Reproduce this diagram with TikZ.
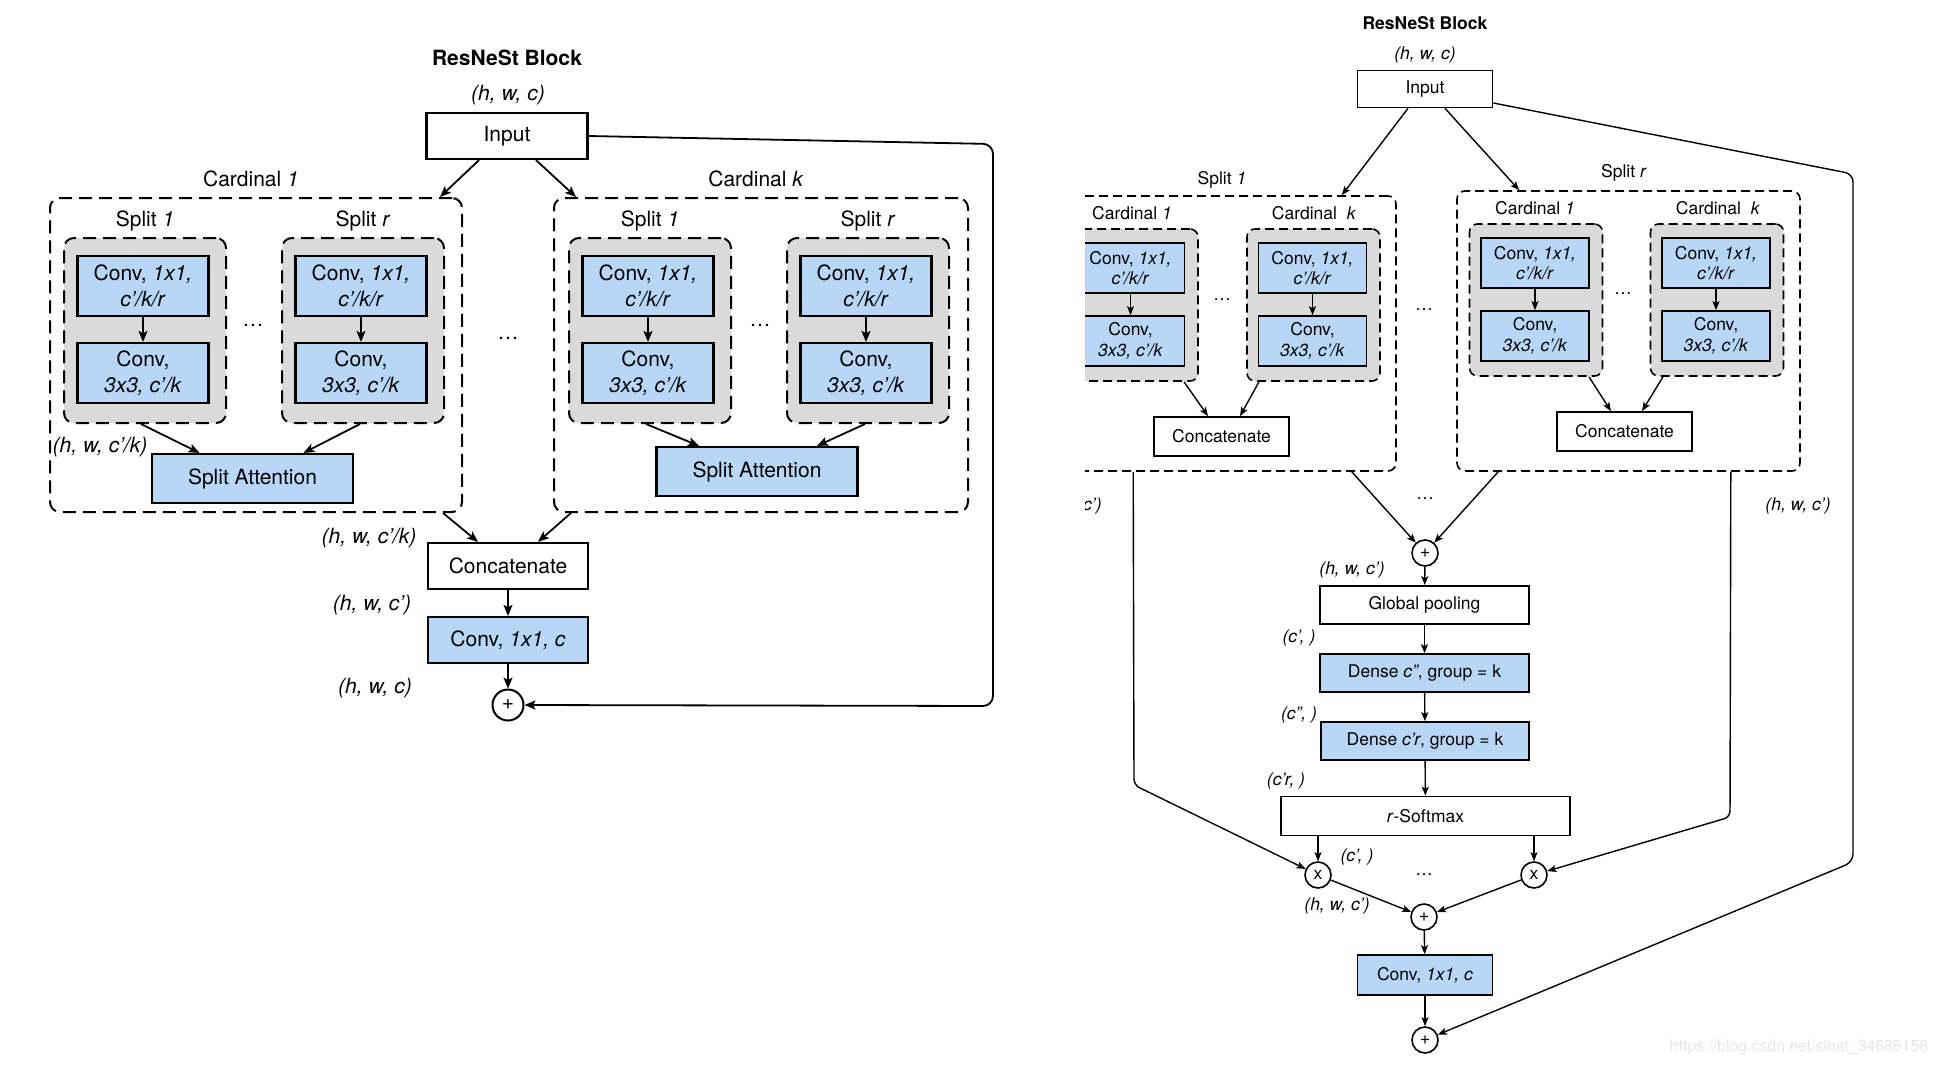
\documentclass[tikz,border=0pt]{standalone}
\usepackage{fontspec}
\setmainfont{TeX Gyre Heros}
\usetikzlibrary{arrows.meta,positioning,calc}
\definecolor{convblue}{HTML}{B8D6F5}
\definecolor{splitgray}{HTML}{DADADA}
\definecolor{markgray}{HTML}{E6E6E6}
\newcommand{\bigfont}{\fontsize{21}{26}\selectfont}
\newcommand{\smallfont}{\fontsize{17.5}{20.5}\selectfont}

\begin{document}
\begin{tikzpicture}[x=1pt,y=-1pt,
  boxL/.style={draw,line width=2.2pt,inner sep=0pt,align=center,font=\bigfont},
  convL/.style={boxL,fill=convblue,minimum width=131pt,minimum height=60pt},
  cardL/.style={draw,line width=2pt,dash pattern=on 13pt off 7pt,rounded corners=10pt,minimum height=314pt},
  splitL/.style={cardL,fill=splitgray,minimum width=162pt,minimum height=185pt},
  sumL/.style={circle,draw,line width=2pt,minimum size=31pt,inner sep=0pt,font=\fontsize{21}{21}\selectfont},
  arrL/.style={line width=1.8pt,-{Stealth[length=11pt,width=9pt,inset=2.5pt]}},
  noteL/.style={font=\bigfont\itshape},
  boxR/.style={draw,line width=1.7pt,inner sep=0pt,align=center,font=\smallfont},
  convR/.style={boxR,fill=convblue,minimum width=108pt,minimum height=50pt},
  cardR/.style={draw,line width=1.6pt,dash pattern=on 9pt off 5pt,rounded corners=8pt,minimum width=343pt},
  splitR/.style={cardR,fill=splitgray,minimum width=133pt,minimum height=152pt},
  sumR/.style={circle,draw,line width=1.6pt,minimum size=26pt,inner sep=0pt,font=\fontsize{18}{18}\selectfont},
  arrR/.style={line width=1.4pt,-{Stealth[length=9pt,width=7pt,inset=2pt]}},
  noteR/.style={font=\smallfont\itshape}]
\useasboundingbox (0,0) rectangle (1938,1066);
\fill[white] (0,0) rectangle (1938,1066);

% ---- left: cardinal-major layout
\node[font=\bigfont\bfseries] (titleL) at (507,58) {ResNeSt Block};
\node[noteL] (hwcL) at (508,95) {(h, w, c)};
\node[boxL,minimum width=161pt,minimum height=46pt] (inL) at (507,136) {Input};
\node[cardL,minimum width=412pt] (cardA) at (256,355) {};
\node[cardL,minimum width=414pt] (cardB) at (761,355) {};
\node[font=\bigfont] (cardAlbl) at (251,179) {Cardinal \textit{1}};
\node[font=\bigfont] (cardBlbl) at (756,179) {Cardinal \textit{k}};
\foreach \x/\n/\t in {145/a/1, 363/b/r, 650/c/1, 868/d/r} {
  \node[splitL] (sp\n) at (\x,330.5) {};
  \node[font=\bigfont] (sp\n lbl) at (\x,221) {Split \textit{\t}};
  \node[convL] (ca\n) at (\x-2,286) {Conv, \textit{1x1,}\\\textit{c’/k/r}};
  \node[convL] (cb\n) at (\x-2,373) {Conv,\\\textit{3x3, c’/k}};
  \draw[arrL] (ca\n) -- (cb\n);
}
\node[font=\bigfont] (dotsA) at (253,325) {\dots};
\node[font=\bigfont] (dotsB) at (760,325) {\dots};
\node[font=\bigfont] (dotsC) at (508,338) {\dots};
\node[convL,minimum width=201pt,minimum height=49pt] (attA) at (252.5,478.5) {Split Attention};
\node[convL,minimum width=201pt,minimum height=49pt] (attB) at (757,471.5) {Split Attention};
\node[noteL] (hwckA) at (100,447) {(h, w, c’/k)};
\draw[arrL] ([xshift=-4pt]spa.south) -- ([xshift=-53pt]attA.north);
\draw[arrL] ([xshift=-3pt]spb.south) -- ([xshift=51pt]attA.north);
\draw[arrL] ([xshift=-4pt]spc.south) -- ([xshift=-58pt]attB.north);
\draw[arrL] ([xshift=-3pt]spd.south) -- ([xshift=60pt]attB.north);
\draw[arrL] ([xshift=-28pt]inL.south) -- ([xshift=-23pt]cardA.north east);
\draw[arrL] ([xshift=29pt]inL.south) -- ([xshift=23pt]cardB.north west);

\node[boxL,minimum width=160pt,minimum height=46pt] (catL) at (508,566) {Concatenate};
\node[boxL,fill=convblue,minimum width=160pt,minimum height=46pt] (outL) at (508,640) {Conv, \textit{1x1, c}};
\node[sumL] (addL) at (508,705) {+};
\node[noteL] (hwckB) at (369,538) {(h, w, c’/k)};
\node[noteL] (hwcpL) at (372,605) {(h, w, c’)};
\node[noteL] (hwcoL) at (375,688) {(h, w, c)};
\draw[arrL] ([xshift=-20pt]cardA.south east) -- ([xshift=-30pt]catL.north);
\draw[arrL] ([xshift=18pt]cardB.south west) -- ([xshift=30pt]catL.north);
\draw[arrL] (catL) -- (outL);
\draw[arrL] (outL) -- (addL);
\draw[arrL,rounded corners=10pt] (inL.east) -- (993,144) -- (993,706) -- (addL.east);

% ---- right: split-major layout (cut at its left edge)
\begin{scope}
\clip (1085,0) rectangle (1938,1066);
\node[font=\smallfont\bfseries] (titleR) at (1425,23) {ResNeSt Block};
\node[noteR] (hwcR) at (1425,55) {(h, w, c)};
\node[boxR,minimum width=135pt,minimum height=37pt] (inR) at (1425,89) {Input};
\node[cardR,minimum height=275pt] (spl1) at (1224.5,333.5) {};
\node[cardR,minimum height=280pt] (splr) at (1628.5,331) {};
\node[font=\smallfont] (spl1lbl) at (1222,180) {Split \textit{1}};
\node[font=\smallfont] (splrlbl) at (1624,173) {Split \textit{r}};
\foreach \x/\y/\n in {1131.5/305/a, 1313.5/305/b, 1536/300/c, 1717/300/d} {
  \node[splitR] (gr\n) at (\x,\y) {};
  \node[convR] (ra\n) at (\x-1,\y-37) {Conv, \textit{1x1,}\\\textit{c’/k/r}};
  \node[convR] (rb\n) at (\x-1,\y+36) {Conv,\\\textit{3x3, c’/k}};
  \draw[arrR] (ra\n) -- (rb\n);
}
\node[font=\smallfont] (crdA) at (1132,213) {Cardinal \textit{1}};
\node[font=\smallfont] (crdB) at (1314,213) {Cardinal\ \ \textit{k}};
\node[font=\smallfont] (crdC) at (1535,208) {Cardinal \textit{1}};
\node[font=\smallfont] (crdD) at (1718,208) {Cardinal\ \ \textit{k}};
\node[font=\smallfont] (rdotsA) at (1222,300) {\dots};
\node[font=\smallfont] (rdotsB) at (1623,294) {\dots};
\node[font=\smallfont] (rdotsC) at (1424,310) {\dots};
\node[boxR,minimum width=135pt,minimum height=39pt] (catA) at (1221.5,436.5) {Concatenate};
\node[boxR,minimum width=135pt,minimum height=39pt] (catB) at (1624.5,431.5) {Concatenate};
\draw[arrR] ([xshift=52.5pt]gra.south) -- ([xshift=-13.5pt]catA.north);
\draw[arrR] ([xshift=-54.5pt]grb.south) -- ([xshift=18.5pt]catA.north);
\draw[arrR] ([xshift=53pt]grc.south) -- ([xshift=-13.5pt]catB.north);
\draw[arrR] ([xshift=-54pt]grd.south) -- ([xshift=17.5pt]catB.north);
\draw[arrR] ([xshift=-17pt]inR.south) -- ([xshift=-55pt]spl1.north east);
\draw[arrR] ([xshift=20pt]inR.south) -- ([xshift=63pt]splr.north west);

\node[sumR] (addA) at (1425,553) {+};
\node[font=\smallfont] (rdotsD) at (1425,499) {\dots};
\draw[arrR] ([xshift=-45pt]spl1.south east) -- (addA);
\draw[arrR] ([xshift=42pt]splr.south west) -- (addA);
\node[noteR] (hwcL2) at (1069,506) {(h, w, c’)};
\node[noteR] (hwcR2) at (1798,506) {(h, w, c’)};
\node[noteR] (hwcA) at (1352,570) {(h, w, c’)};
\node[boxR,minimum width=209pt,minimum height=38pt] (pool) at (1424.5,605) {Global pooling};
\node[noteR] (cA) at (1299,638) {(c’, )};
\node[boxR,fill=convblue,minimum width=209pt,minimum height=38pt] (densA) at (1424.5,673) {Dense \textit{c”}, group = k};
\node[noteR] (cB) at (1299,715) {(c”, )};
\node[boxR,fill=convblue,minimum width=208pt,minimum height=38pt] (densB) at (1425,741) {Dense \textit{c’r}, group = k};
\node[noteR] (cC) at (1286,781) {(c’r, )};
\node[boxR,minimum width=289pt,minimum height=39pt] (soft) at (1425.5,816) {\textit{r}-Softmax};
\draw[arrR] (addA) -- (pool);
\draw[arrR] (pool) -- (densA);
\draw[arrR] (densA) -- (densB);
\draw[arrR] (densB) -- (soft);

\node[sumR,font=\smallfont] (mulA) at (1318,875) {x};
\node[sumR,font=\smallfont] (mulB) at (1534,875) {x};
\node[noteR] (cD) at (1357,857) {(c’, )};
\node[font=\smallfont] (rdotsE) at (1424,875) {\dots};
\draw[arrR] (soft.south -| mulA) -- (mulA);
\draw[arrR] (soft.south -| mulB) -- (mulB);
\draw[arrR,rounded corners=6pt] ([xshift=81pt]spl1.south west) -- (1134,785) -- (mulA);
\draw[arrR,rounded corners=6pt] ([xshift=-70pt]splr.south east) -- (1730,817) -- (mulB);

\node[sumR] (addB) at (1424,917) {+};
\node[noteR] (hwcB) at (1337,906) {(h, w, c’)};
\draw[arrR] (mulA) -- (addB);
\draw[arrR] (mulB) -- (addB);
\node[boxR,fill=convblue,minimum width=135pt,minimum height=40pt] (outR) at (1425,975) {Conv, \textit{1x1, c}};
\node[sumR] (addC) at (1425,1040) {+};
\draw[arrR] (addB) -- (outR);
\draw[arrR] (outR) -- (addC);
\draw[arrR,rounded corners=8pt] ([yshift=-14pt]inR.east) -- (1853,174) -- (1853,862) -- (addC);
\end{scope}

\node[text=markgray,font=\fontsize{15.8}{17}\selectfont] (mark) at (1799,1047) {https://blog.csdn.net/sinat\_34686158};
\end{tikzpicture}
\end{document}
